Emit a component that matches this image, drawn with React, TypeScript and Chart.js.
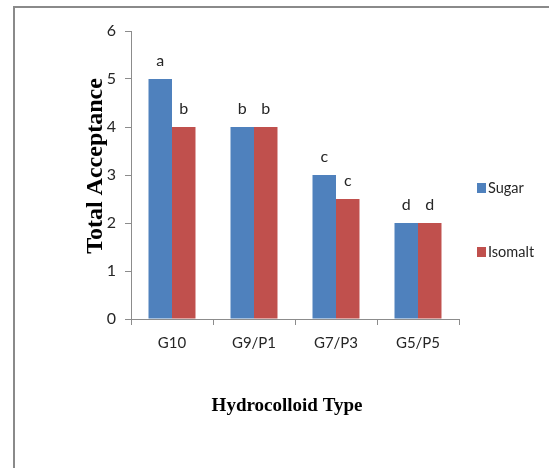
import { useEffect, useRef } from "react";
import { Chart, registerables } from "chart.js";

Chart.register(...registerables);

const categories = ["G10", "G9/P1", "G7/P3", "G5/P5"];
const seriesNames = ["Sugar", "Isomalt"];
const sugarValues = [5, 4, 3, 2];
const isomaltValues = [4, 4, 2.5, 2];
const sugarLetters = ["a", "b", "c", "d"];
const isomaltLetters = ["b", "b", "c", "d"];
const yTicks = [0, 1, 2, 3, 4, 5, 6];
const xTitle = "Hydrocolloid Type";
const yTitle = "Total Acceptance";

const BLUE = "#4F81BD";
const RED = "#C0504D";
const SANS = "Lato, 'Open Sans', sans-serif";
const SERIF = "'Liberation Serif', 'DejaVu Serif', serif";

export default function App() {
  const ref = useRef<HTMLCanvasElement | null>(null);

  useEffect(() => {
    document.body.style.margin = "0";
    const canvas = ref.current;
    if (!canvas) return;
    const letters = [sugarLetters, isomaltLetters];

    const decor = {
      id: "decor",
      beforeDraw(chart: any) {
        const ctx = chart.ctx;
        ctx.save();
        ctx.fillStyle = "#ffffff";
        ctx.fillRect(0, 0, chart.width, chart.height);
        ctx.fillStyle = "#8a8a8a";
        ctx.fillRect(13, 6, chart.width - 13, 2);
        ctx.fillRect(13, 6, 2, chart.height - 6);
        ctx.restore();
      },
      afterDatasetsDraw(chart: any) {
        const ctx = chart.ctx;
        ctx.save();
        ctx.font = `16px ${SANS}`;
        ctx.fillStyle = "#262626";
        ctx.textAlign = "center";
        ctx.textBaseline = "middle";
        chart.data.datasets.forEach((_: any, di: number) => {
          const meta = chart.getDatasetMeta(di);
          meta.data.forEach((el: any, i: number) => {
            ctx.fillText(letters[di][i], el.x, el.y - 18);
          });
        });
        ctx.restore();
      },
      afterDraw(chart: any) {
        const ctx = chart.ctx;
        ctx.save();
        // legend
        const legendY = [188, 252];
        chart.data.datasets.forEach((ds: any, di: number) => {
          const y = legendY[di];
          ctx.fillStyle = ds.backgroundColor;
          ctx.fillRect(477, y - 5, 9, 10);
          ctx.fillStyle = "#262626";
          ctx.font = `14.5px ${SANS}`;
          ctx.textAlign = "left";
          ctx.textBaseline = "middle";
          ctx.fillText(ds.label, 488, y);
        });
        // titles
        ctx.fillStyle = "#000000";
        ctx.font = `bold 19px ${SERIF}`;
        ctx.textAlign = "center";
        ctx.textBaseline = "middle";
        ctx.fillText(xTitle, 287, 406);
        ctx.translate(96, 166);
        ctx.rotate(-Math.PI / 2);
        ctx.font = `bold 24px ${SERIF}`;
        ctx.fillText(yTitle, 0, 0);
        ctx.restore();
      },
    };

    const chart = new Chart(canvas, {
      type: "bar",
      data: {
        labels: categories,
        datasets: [
          {
            label: seriesNames[0],
            data: sugarValues,
            backgroundColor: BLUE,
            categoryPercentage: 0.573,
            barPercentage: 1,
          },
          {
            label: seriesNames[1],
            data: isomaltValues,
            backgroundColor: RED,
            categoryPercentage: 0.573,
            barPercentage: 1,
          },
        ],
      },
      options: {
        responsive: false,
        animation: false,
        layout: { padding: { left: 101, top: 31, right: 90, bottom: 119 } },
        plugins: {
          legend: { display: false },
          tooltip: { enabled: false },
        },
        scales: {
          x: {
            grid: {
              display: true,
              drawOnChartArea: false,
              drawTicks: true,
              tickLength: 6,
              color: "#8c8c8c",
              offset: true,
            },
            border: { color: "#8c8c8c" },
            ticks: {
              font: { family: SANS, size: 15 },
              color: "#262626",
              padding: 9,
            },
            afterFit: (s: any) => {
              s.height = 30;
            },
          },
          y: {
            min: 0,
            max: 6,
            afterBuildTicks: (s: any) => {
              s.ticks = yTicks.map((v) => ({ value: v }));
            },
            grid: {
              display: true,
              drawOnChartArea: false,
              drawTicks: true,
              tickLength: 6,
              color: "#8c8c8c",
            },
            border: { color: "#8c8c8c" },
            ticks: {
              font: { family: SANS, size: 16 },
              color: "#262626",
              padding: 9,
            },
            afterFit: (s: any) => {
              s.width = 30;
            },
          },
        },
      },
      plugins: [decor],
    } as any);

    return () => chart.destroy();
  }, []);

  return <canvas ref={ref} width={549} height={468} style={{ display: "block" }} />;
}
